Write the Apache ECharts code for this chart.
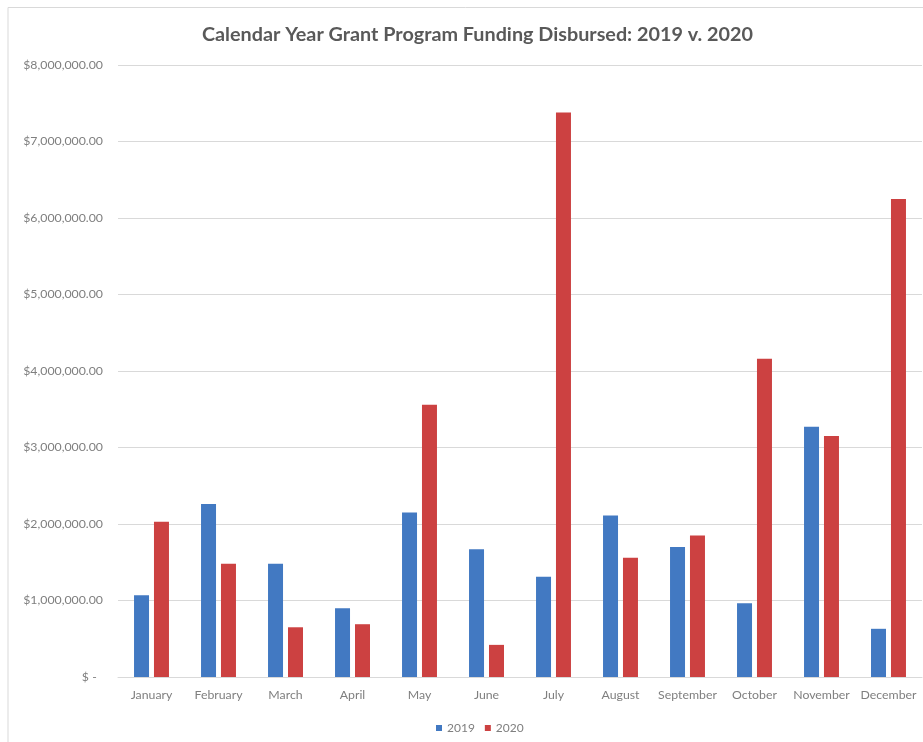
<!DOCTYPE html>
<html>
<head>
<meta charset="utf-8">
<script src="https://cdn.jsdelivr.net/npm/echarts@6/dist/echarts.min.js"></script>
<style>
html,body{margin:0;padding:0;background:#fff;}
#chart{width:923px;height:742px;}
</style>
</head>
<body>
<div id="chart"></div>
<script>
const categories = ['January','February','March','April','May','June','July','August','September','October','November','December'];
const values2019 = [1070000, 2260000, 1480000, 900000, 2150000, 1670000, 1310000, 2110000, 1700000, 965000, 3270000, 630000];
const values2020 = [2030000, 1480000, 650000, 690000, 3560000, 420000, 7380000, 1560000, 1850000, 4160000, 3150000, 6250000];
const seriesNames = ['2019', '2020'];
const yMax = 8000000;
const yStep = 1000000;

const chart = echarts.init(document.getElementById('chart'), null, {renderer: 'canvas'});
const fontFam = 'Lato, "Open Sans", sans-serif';
function money(v) {
  if (v === 0) return '$ -  ';
  return '$' + v.toLocaleString('en-US', {minimumFractionDigits: 2, maximumFractionDigits: 2});
}
chart.setOption({
  backgroundColor: '#fff',
  animation: false,
  title: {
    text: 'Calendar Year Grant Program Funding Disbursed: 2019 v. 2020',
    left: 197, top: 20,
    textStyle: {fontFamily: fontFam, fontWeight: 'bold', fontSize: 19.8, color: '#595959'}
  },
  graphic: [{
    type: 'polyline',
    shape: {points: [[8, 742], [8, 7.5], [923, 7.5]]},
    style: {stroke: '#d9d9d9', lineWidth: 1, fill: null},
    silent: true
  }],
  legend: {
    data: seriesNames,
    bottom: 3, left: 431,
    itemWidth: 6, itemHeight: 6, itemGap: 10,
    icon: 'rect',
    textStyle: {fontFamily: fontFam, fontSize: 12, color: '#7f7f7f', padding: [0,0,0,0]}
  },
  grid: {left: 118, right: 1, top: 65, bottom: 65, containLabel: false},
  xAxis: {
    type: 'category', data: categories,
    axisLine: {show: true, lineStyle: {color: '#d9d9d9'}},
    axisTick: {show: false},
    axisLabel: {fontFamily: fontFam, fontSize: 12.3, color: '#7f7f7f', margin: 12, interval: 0}
  },
  yAxis: {
    type: 'value', min: 0, max: yMax, interval: yStep,
    axisLine: {show: false}, axisTick: {show: false},
    splitLine: {lineStyle: {color: '#d9d9d9'}},
    axisLabel: {fontFamily: fontFam, fontSize: 12.3, color: '#7f7f7f', margin: 15, formatter: money}
  },
  series: [
    {name: seriesNames[0], type: 'bar', data: values2019, barWidth: 15, barGap: '33%', itemStyle: {color: '#4279c2'}},
    {name: seriesNames[1], type: 'bar', data: values2020, barWidth: 15, barGap: '33%', itemStyle: {color: '#cc4141'}}
  ]
});
</script>
</body>
</html>
